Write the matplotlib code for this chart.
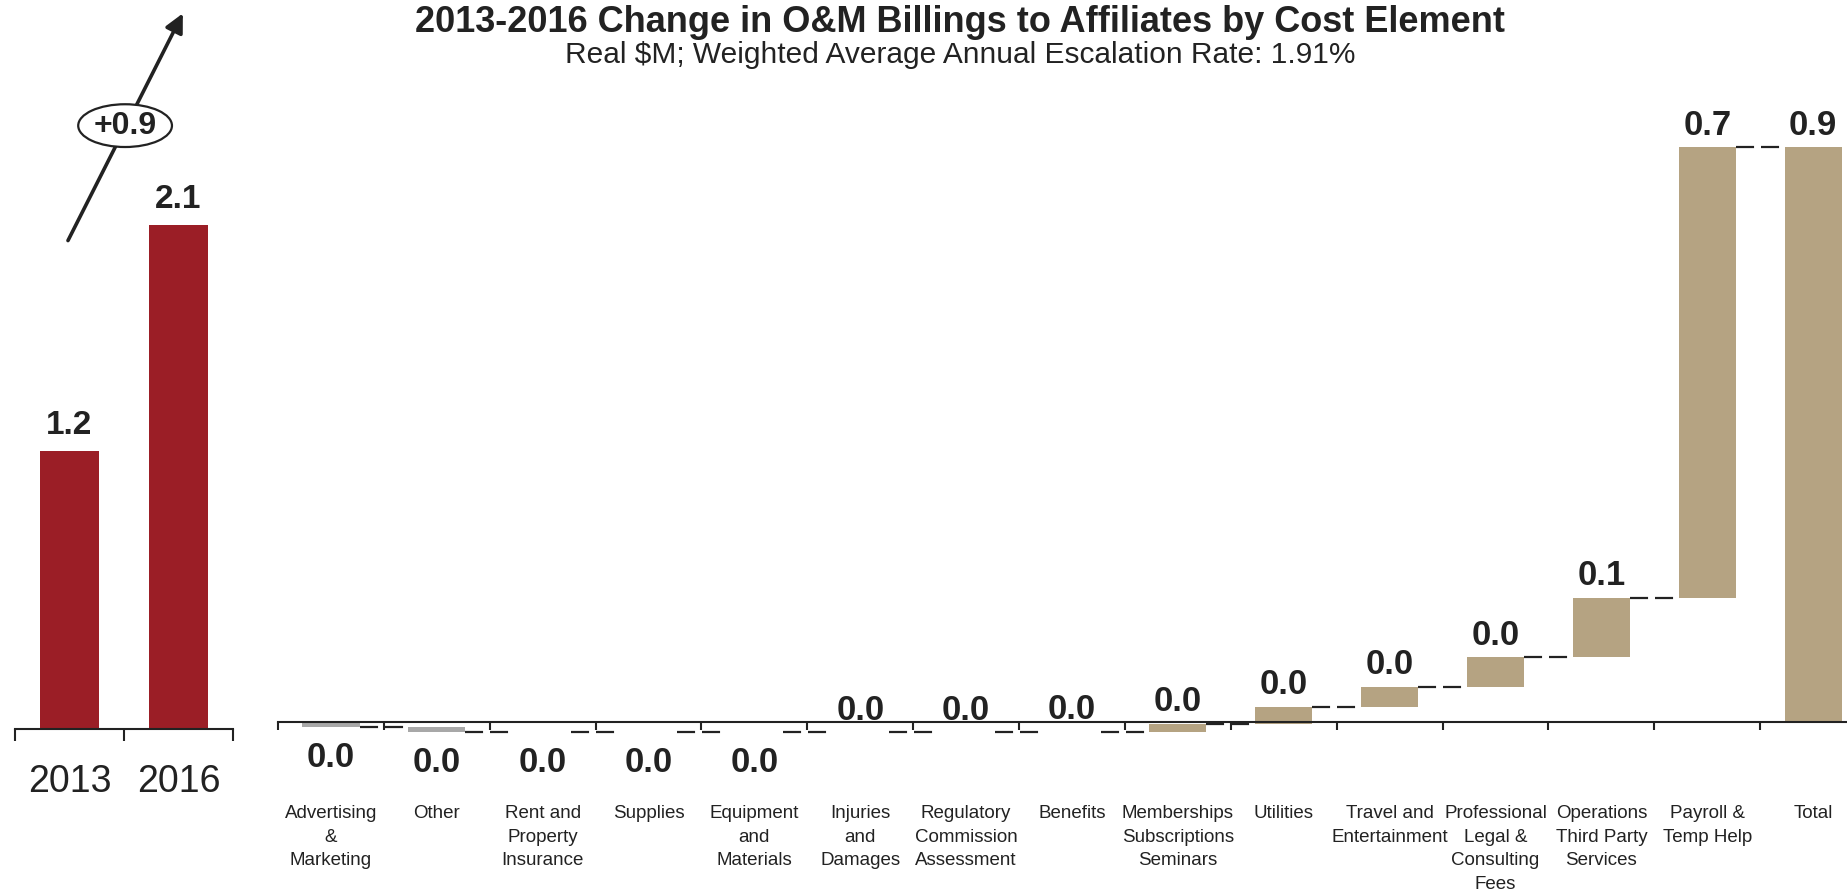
import matplotlib
matplotlib.use("Agg")
import matplotlib.pyplot as plt
from matplotlib import font_manager
from matplotlib.patches import Ellipse
import numpy as np

# left panel: totals per year
years = ["2013", "2016"]
year_totals = [1.18, 2.14]

# waterfall: change per cost element
categories = ["Advertising\n&\nMarketing", "Other", "Rent and\nProperty\nInsurance", "Supplies",
              "Equipment\nand\nMaterials", "Injuries\nand\nDamages", "Regulatory\nCommission\nAssessment",
              "Benefits", "Memberships\nSubscriptions\nSeminars", "Utilities", "Travel and\nEntertainment",
              "Professional\nLegal &\nConsulting\nFees", "Operations\nThird Party\nServices",
              "Payroll &\nTemp Help"]
changes = [-0.008, -0.008, -0.0003, -0.0002, -0.0002, 0.0002, 0.0002, 0.0002,
           0.013, 0.026, 0.032, 0.046, 0.093, 0.704]
total_name = "Total"

title = "2013-2016 Change in O&M Billings to Affiliates by Cost Element"
subtitle = "Real $M; Weighted Average Annual Escalation Rate: 1.91%"

red = "#9B1E26"
tan = "#B5A382"
grey = "#A8A8A8"
ink = "#222222"

names = {f.name for f in font_manager.fontManager.ttflist}
narrow = "Liberation Sans Narrow" if "Liberation Sans Narrow" in names else "Liberation Sans"
plt.rcParams['font.family'] = ['Liberation Sans', 'DejaVu Sans']
plt.rcParams['lines.scale_dashes'] = False

W, H = 1847, 891
fig = plt.figure(figsize=(W / 100, H / 100), dpi=100)

################################################################################
# left panel
ax1 = fig.add_axes([15 / W, 0, 218 / W, 1])
ax1.bar(range(len(years)), year_totals, width=0.54, color=red)
ax1.set_xlim(-0.5, 1.5)
ax1.set_ylim(-0.688, 3.096)
for s in ["top", "right", "left"]:
    ax1.spines[s].set_visible(False)
ax1.spines["bottom"].set_position(("data", 0))
ax1.spines["bottom"].set_linewidth(1.5)
ax1.spines["bottom"].set_color(ink)
ax1.set_xticks([-0.5, 0.5, 1.5])
ax1.set_xticklabels([])
ax1.set_yticks([])
ax1.tick_params(axis="x", direction="out", length=8.5, width=1.5, color=ink)
for i, (yr, v) in enumerate(zip(years, year_totals)):
    ax1.text(i, -0.225, yr, ha="center", va="center", fontsize=27, color=ink)
    ax1.annotate(f"{v:.1f}", (i, v), xytext=(0, 7), textcoords="offset points",
                 ha="center", va="bottom", fontsize=24, fontweight="bold", color=ink)

# growth arrow with ellipse label
ax1.annotate("", xy=(0.77, 0.985), xytext=(0.243, 0.73), xycoords="axes fraction",
             arrowprops=dict(arrowstyle="-|>", lw=2.6, color=ink, mutation_scale=28,
                             shrinkA=0, shrinkB=0), annotation_clip=False)
ax1.add_patch(Ellipse((0.505, 0.859), 0.43, 0.048, transform=ax1.transAxes,
                      facecolor="white", edgecolor=ink, lw=1.6, zorder=5, clip_on=False))
ax1.text(0.505, 0.859, f"+{sum(changes):.1f}", transform=ax1.transAxes, ha="center",
         va="center", fontsize=23, fontweight="bold", color=ink, zorder=6)

################################################################################
# waterfall
ax2 = fig.add_axes([278 / W, 0, (W - 278) / W, 1])
n = len(changes)
bw = 0.54
cum = np.cumsum(changes)
starts = cum - np.array(changes)
bottoms = np.minimum(starts, cum)
colors = [tan if c >= 0 else grey for c in changes]
ax2.bar(np.arange(n), np.abs(changes), bottom=bottoms, width=bw, color=colors)
ax2.bar([n], [cum[-1]], width=bw, color=tan)

for i in range(n):
    ax2.plot([i + bw / 2, i + 1 - bw / 2], [cum[i], cum[i]], color=ink, lw=1.6,
             dashes=(13, 5))

for i, c in enumerate(changes):
    if c >= 0:
        ax2.annotate(f"{c:.1f}", (i, max(starts[i], cum[i])), xytext=(0, 4),
                     textcoords="offset points", ha="center", va="bottom",
                     fontsize=25, fontweight="bold", color=ink)
    else:
        ax2.annotate(f"{abs(c):.1f}", (i, min(starts[i], cum[i])), xytext=(0, -10),
                     textcoords="offset points", ha="center", va="top",
                     fontsize=25, fontweight="bold", color=ink)
ax2.annotate(f"{cum[-1]:.1f}", (n, cum[-1]), xytext=(0, 4), textcoords="offset points",
             ha="center", va="bottom", fontsize=25, fontweight="bold", color=ink)

for i, lab in enumerate(categories + [total_name]):
    ax2.text(i, -0.131, lab, ha="center", va="top", fontsize=13.5, color=ink,
             linespacing=1.5)

ax2.set_xlim(-0.5, 14.32)
ax2.set_ylim(-0.2647, 1.1282)
for s in ["top", "right", "left"]:
    ax2.spines[s].set_visible(False)
ax2.spines["bottom"].set_position(("data", 0))
ax2.spines["bottom"].set_linewidth(1.5)
ax2.spines["bottom"].set_color(ink)
ax2.set_xticks(np.arange(n + 1) - 0.5)
ax2.set_xticklabels([])
ax2.set_yticks([])
ax2.tick_params(axis="x", direction="out", length=6, width=1.5, color=ink)

fig.text(960 / W, 1 - 22 / H, title, ha="center", va="center", fontsize=26,
         fontweight="bold", color=ink, family=[narrow, "DejaVu Sans"])
fig.text(960 / W, 1 - 55 / H, subtitle, ha="center", va="center", fontsize=21.5,
         color=ink, family=[narrow, "DejaVu Sans"])

fig.savefig("out.png", dpi=100)
